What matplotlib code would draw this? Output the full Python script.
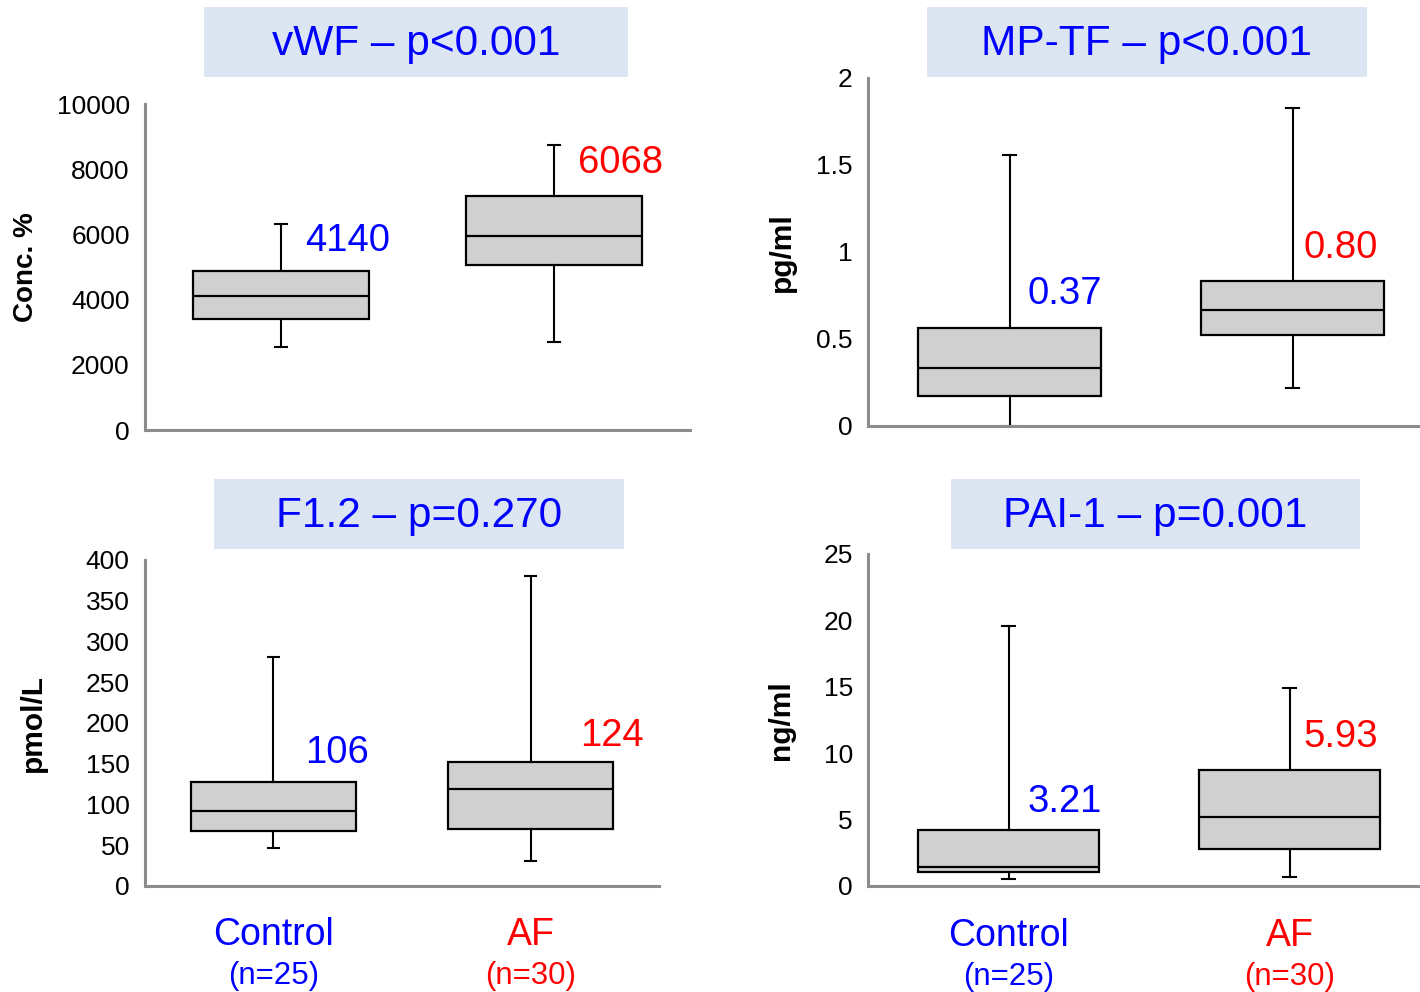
import matplotlib.pyplot as plt
from matplotlib.patches import Rectangle

# data
groups = ["Control", "AF"]
group_n = ["(n=25)", "(n=30)"]
panel_titles = ["vWF \u2013 p<0.001", "MP-TF \u2013 p<0.001", "F1.2 \u2013 p=0.270", "PAI-1 \u2013 p=0.001"]
panel_units = ["Conc. %", "pg/ml", "pmol/L", "ng/ml"]

# whislo, q1, median, q3, whishi for Control and AF
vwf_ctrl = [2550, 3400, 4120, 4870, 6310]
vwf_af = [2700, 5050, 5950, 7180, 8740]
mptf_ctrl = [0.0, 0.172, 0.334, 0.563, 1.56]
mptf_af = [0.218, 0.523, 0.666, 0.832, 1.83]
f12_ctrl = [47, 67, 92, 128, 281]
f12_af = [31, 70, 119, 152, 380]
pai_ctrl = [0.5, 1.03, 1.43, 4.23, 19.6]
pai_af = [0.7, 2.78, 5.21, 8.72, 14.9]

# mean labels
vwf_means = ["4140", "6068"]
mptf_means = ["0.37", "0.80"]
f12_means = ["106", "124"]
pai_means = ["3.21", "5.93"]

yticks_vwf = [0, 2000, 4000, 6000, 8000, 10000]
yticks_mptf = [0, 0.5, 1, 1.5, 2]
ytick_lbl_mptf = ["0", "0.5", "1", "1.5", "2"]
yticks_f12 = [0, 50, 100, 150, 200, 250, 300, 350, 400]
yticks_pai = [0, 5, 10, 15, 20, 25]

blue = "#0000ff"
red = "#ff0000"
sans = ["Liberation Sans", "DejaVu Sans"]

fig = plt.figure(figsize=(14.2, 9.92), dpi=100)

panels = [
    dict(rect=[0.1021, 0.5665, 0.3838, 0.3286], data=[vwf_ctrl, vwf_af], means=vwf_means,
         ticks=yticks_vwf, tlabels=[str(t) for t in yticks_vwf], top=10000,
         lblpos=[(0.588, 5800), (1.59, 8180)],
         box=[0.1437, 0.9224, 0.2986], tx=0.2930, ty=0.9557, ylx=0.018, ylfs=20),
    dict(rect=[0.6113, 0.5706, 0.3986, 0.3508], data=[mptf_ctrl, mptf_af], means=mptf_means,
         ticks=yticks_mptf, tlabels=ytick_lbl_mptf, top=2,
         lblpos=[(0.565, 0.76), (1.54, 1.02)],
         box=[0.6528, 0.9224, 0.3099], tx=0.8077, ty=0.9557, ylx=0.551, ylfs=21.5),
    dict(rect=[0.1021, 0.1069, 0.3620, 0.3286], data=[f12_ctrl, f12_af], means=f12_means,
         ticks=yticks_f12, tlabels=[str(t) for t in yticks_f12], top=400,
         lblpos=[(0.623, 163), (1.694, 184)],
         box=[0.1507, 0.4466, 0.2887], tx=0.2951, ty=0.4799, ylx=0.023, ylfs=21.5),
    dict(rect=[0.6113, 0.1069, 0.3958, 0.3347], data=[pai_ctrl, pai_af], means=pai_means,
         ticks=yticks_pai, tlabels=[str(t) for t in yticks_pai], top=25,
         lblpos=[(0.568, 6.3), (1.548, 11.2)],
         box=[0.6697, 0.4466, 0.2880], tx=0.8137, ty=0.4799, ylx=0.550, ylfs=21.5),
]

for i, p in enumerate(panels):
    ax = fig.add_axes(p["rect"])
    stats = []
    for d, g in zip(p["data"], groups):
        stats.append(dict(whislo=d[0], q1=d[1], med=d[2], q3=d[3], whishi=d[4], label=g))
    ax.bxp(stats, positions=[0.5, 1.5], widths=0.645, capwidths=0.045,
           showfliers=False, patch_artist=True,
           boxprops=dict(facecolor="#d0d0d0", edgecolor="black", linewidth=1.6),
           medianprops=dict(color="black", linewidth=1.6),
           whiskerprops=dict(color="black", linewidth=1.5),
           capprops=dict(color="black", linewidth=1.5))
    ax.set_xlim(0, 2)
    ax.set_ylim(0, p["top"])
    ax.set_yticks(p["ticks"])
    ax.set_yticklabels(p["tlabels"], family=sans, fontsize=19)
    ax.set_xticks([])
    ax.tick_params(axis="y", length=0, pad=11)
    for s in ["top", "right"]:
        ax.spines[s].set_visible(False)
    for s in ["left", "bottom"]:
        ax.spines[s].set_color("#8c8c8c")
        ax.spines[s].set_linewidth(2.2)
    ax.patch.set_alpha(0)

    for (x, y), m, c in zip(p["lblpos"], p["means"], [blue, red]):
        ax.text(x, y, m, color=c, fontsize=27.5, family=sans, ha="left", va="center")

    fig.text(p["ylx"], p["rect"][1] + p["rect"][3] / 2, panel_units[i], rotation=90,
             fontsize=p["ylfs"], fontweight="bold", family=sans, ha="center", va="center")

    bx, by, bw = p["box"]
    fig.patches.append(Rectangle((bx, by), bw, 0.0706, transform=fig.transFigure,
                                 facecolor="#dce6f2", edgecolor="none"))
    fig.text(p["tx"], p["ty"], panel_titles[i], color=blue, fontsize=30.5, family=sans,
             ha="center", va="center")

    # group labels under the bottom row
    if i >= 2:
        for x, g, n, c in zip([0.5, 1.5], groups, group_n, [blue, red]):
            ax.text(x, -0.15 * p["top"], g, color=c, fontsize=27, family=sans,
                    ha="center", va="center", clip_on=False)
            ax.text(x, -0.275 * p["top"], n, color=c, fontsize=22.5, family=sans,
                    ha="center", va="center", clip_on=False)

fig.savefig("out.png", dpi=100)
